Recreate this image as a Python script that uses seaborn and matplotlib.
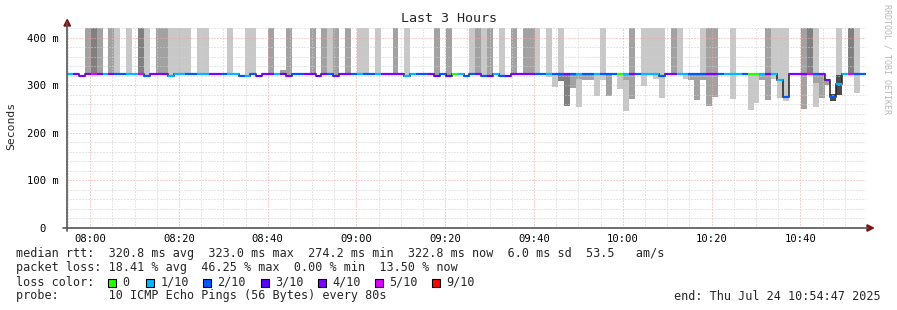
import numpy as np
import matplotlib
matplotlib.use("Agg")
import matplotlib.pyplot as plt
import seaborn as sns
from matplotlib.patches import Rectangle, Polygon
from matplotlib.lines import Line2D

# ---------------- data ----------------
title = "Last 3 Hours"
start_hms = (7, 54, 47)          # window start (end 10:54:47)
step_seconds = 80                # one measurement every 80 s
tick_labels = ["08:00", "08:20", "08:40", "09:00", "09:20", "09:40", "10:00", "10:20", "10:40"]
ytick_ms = [0, 100, 200, 300, 400]
ytick_labels = ["0  ", "100 m", "200 m", "300 m", "400 m"]

# loss level per step: 0=0, 1=1/10, 2=2/10, 3=3/10, 4=4/10, 5=5/10, 6=9/10
loss_lvl = [1, 4, 4, 4, 5, 4, 1, 4, 2, 2, 1, 1, 5, 2, 4,
            4, 4, 1, 1, 1, 2, 2, 1, 1, 4, 4, 2, 1, 1, 2,
            1, 2, 3, 4, 4, 1, 3, 4, 2, 2, 4, 4, 3, 4, 2,
            4, 4, 4, 2, 1, 2, 2, 1, 4, 4, 4, 4, 1, 1, 2,
            2, 4, 3, 2, 3, 0, 1, 2, 2, 4, 2, 3, 1, 2, 3,
            4, 4, 4, 4, 2, 2, 1, 2, 2, 4, 2, 1, 2, 2, 1,
            2, 2, 2, 0, 1, 4, 2, 1, 1, 1, 2, 4, 4, 1, 1,
            2, 2, 2, 4, 4, 2, 1, 1, 1, 2, 0, 0, 1, 4, 1,
            1, 2, 4, 4, 4, 5, 2, 4, 4, 2, 1, 1, 5, 2, 2]

median_ms = [322.8, 322.8, 319.6, 322.8, 322.8, 322.8, 322.8, 322.8, 322.8, 322.8, 322.8, 322.8, 322.8, 319.6, 322.8,
             322.8, 322.8, 319.6, 322.8, 322.8, 322.8, 322.8, 322.8, 322.8, 322.8, 322.8, 322.8, 322.8, 322.8, 319.6,
             319.6, 322.8, 319.6, 322.8, 322.8, 322.8, 322.8, 319.6, 322.8, 322.8, 322.8, 322.8, 319.6, 322.8, 322.8,
             319.6, 322.8, 322.8, 322.8, 322.8, 322.8, 322.8, 322.8, 322.8, 322.8, 322.8, 322.8, 319.6, 322.8, 322.8,
             322.8, 322.8, 319.6, 322.8, 319.6, 322.8, 322.8, 319.6, 322.8, 322.8, 319.6, 319.6, 322.8, 319.6, 319.6,
             322.8, 322.8, 322.8, 322.8, 322.8, 322.8, 322.8, 322.8, 322.8, 322.8, 322.8, 322.8, 322.8, 322.8, 322.8,
             322.8, 322.8, 322.8, 322.8, 322.8, 322.8, 322.8, 322.8, 322.8, 322.8, 319.6, 322.8, 322.8, 322.8, 322.8,
             322.8, 322.8, 322.8, 322.8, 322.8, 322.8, 322.8, 322.8, 322.8, 322.8, 322.8, 322.8, 322.8, 322.8, 322.8,
             311.0, 276.0, 322.8, 322.8, 322.8, 322.8, 322.8, 322.8, 311.0, 274.2, 302.0, 322.8, 322.8, 322.8, 322.8]

# smoke above the median, reaching off the chart (shade 1 light, 2 mid, 3 dark)
offscale_ms = 1000
up_step = [3, 4, 5, 7, 8, 10, 12, 13, 15, 16, 17, 18, 19, 20, 22, 23,
           27, 30, 31, 34, 37, 41, 43, 44, 45, 47, 49, 50, 52,
           55, 57, 62, 64, 68, 69, 70, 71, 73, 75, 77, 78, 79,
           81, 83, 90, 95, 97, 98, 99, 100, 102, 103, 107,
           108, 109, 112, 118, 119, 120, 121, 124, 125, 126, 132, 133]
up_shade = [2, 3, 2, 2, 1, 1, 3, 1, 2, 2, 1, 1, 1, 1, 1, 1,
            1, 1, 1, 2, 2, 2, 2, 1, 2, 2, 1, 1, 1,
            2, 1, 2, 2, 1, 2, 1, 2, 1, 2, 2, 2, 1,
            1, 1, 1, 2, 1, 1, 1, 1, 2, 1, 1,
            2, 2, 1, 2, 1, 1, 1, 2, 3, 1, 3, 1]

# smoke below the median: lowest ping of the band (drawn up to the median)
low_step = [81, 82, 83, 84, 85, 86, 86, 87, 88, 89, 90, 91, 93, 94, 94, 95, 97, 99, 100,
            104, 105, 106, 107, 108, 109, 112, 115, 116, 117, 118, 119, 120, 121, 124, 126, 126, 127, 128, 133]
low_ms = [317, 297, 308, 257, 293, 255, 312, 311, 311, 278, 310, 278, 291, 246, 310, 271, 299, 312, 273,
          312, 311, 269, 310, 256, 275, 271, 248, 263, 310, 268, 313, 273, 266, 249, 255, 305, 274, 301, 284]
low_shade = [1, 1, 3, 3, 2, 1, 2, 2, 2, 1, 1, 2, 1, 1, 2, 2, 1, 1, 1,
             1, 2, 2, 2, 2, 2, 1, 1, 1, 2, 2, 1, 1, 1, 2, 1, 2, 2, 2, 1]

# free-standing smoke bands
band_step = [36, 129, 130, 130]
band_lo = [322.8, 266, 322, 280]
band_hi = [331, 281, 1000, 322]
band_shade = [2, 4, 1, 4]

loss_names = ["0", "1/10", "2/10", "3/10", "4/10", "5/10", "9/10"]
loss_colors = ["#26ff00", "#00b8ff", "#0059ff", "#5e00ff", "#7e00ff", "#dd00ff", "#ff0000"]
shade_colors = {1: "#c8c8c8", 2: "#a2a2a2", 3: "#808080", 4: "#4c4c4c"}

stats_lines = [
    "median rtt:  320.8 ms avg  323.0 ms max  274.2 ms min  322.8 ms now  6.0 ms sd  53.5   am/s",
    "packet loss: 18.41 % avg  46.25 % max  0.00 % min  13.50 % now",
]
loss_title = "loss color:"
probe_line = "probe:       10 ICMP Echo Pings (56 Bytes) every 80s"
end_line = "end: Thu Jul 24 10:54:47 2025"
side_text = "RRDTOOL / TOBI OETIKER"
ylabel = "Seconds"

# ---------------- figure ----------------
sns.set_style("white")
plt.rcParams["font.family"] = ["DejaVu Sans Mono", "DejaVu Sans"]
W, H = 897, 310
fig = plt.figure(figsize=(W / 100, H / 100), dpi=100)
fig.patch.set_facecolor("white")

def fx(px):
    return px / W

def fy(py):
    return 1 - py / H

ax_l, ax_r, ax_t, ax_b = 67, 866, 28, 228
ax = fig.add_axes([fx(ax_l), fy(ax_b), (ax_r - ax_l) / W, (ax_b - ax_t) / H])
ax.set_facecolor("white")

t0 = start_hms[0] * 60 + start_hms[1] + start_hms[2] / 60.0
step_min = step_seconds / 60.0
n = len(median_ms)
edges = t0 + np.arange(n + 1) * step_min
med = np.array(median_ms)

# smoke above median
for k, s in zip(up_step, up_shade):
    ax.bar(edges[k], offscale_ms - med[k], bottom=med[k], width=step_min, align="edge",
           color=shade_colors[s], linewidth=0, antialiased=False, zorder=1)
# smoke below median (light first, darker on top)
order = sorted(range(len(low_step)), key=lambda i: low_shade[i])
for i in order:
    k = low_step[i]
    ax.bar(edges[k], med[k] - low_ms[i], bottom=low_ms[i], width=step_min, align="edge",
           color=shade_colors[low_shade[i]], linewidth=0, antialiased=False, zorder=1.2)
for k, lo, hi, s in zip(band_step, band_lo, band_hi, band_shade):
    ax.bar(edges[k], hi - lo, bottom=lo, width=step_min, align="edge",
           color=shade_colors[s], linewidth=0, antialiased=False, zorder=1.4)

# median line: dark step line + loss-coloured segments
ax.stairs(med, edges, baseline=None, color="#202020", linewidth=1.1, zorder=3)
ax.hlines(med, edges[:-1], edges[1:], colors=[loss_colors[l] for l in loss_lvl],
          linewidth=1.6, zorder=4)

# scales
x_end = t0 + 180
ax.set_xlim(t0, x_end)
ax.set_ylim(0, 420)
major_x = [480 + 20 * i for i in range(len(tick_labels))]
ax.set_xticks(major_x)
ax.set_xticklabels(tick_labels)
ax.set_xticks(np.arange(475, 655, 5), minor=True)
ax.set_yticks(ytick_ms)
ax.set_yticklabels(ytick_labels)
ax.set_yticks(np.arange(0, 421, 20), minor=True)
ax.tick_params(axis="both", which="both", length=0, labelsize=7.6, colors="black")
ax.tick_params(axis="x", pad=4.5)
ax.tick_params(axis="y", pad=6)

ax.set_axisbelow(False)
ax.grid(True, which="minor", color="#cfcfcf", linestyle=(0, (1, 2)), linewidth=0.72, zorder=2)
ax.grid(True, which="major", color="#f0a4a4", linestyle=(0, (1, 2)), linewidth=0.72, zorder=2.1)
for sp in ax.spines.values():
    sp.set_visible(False)

# axes lines and arrows
axis_col = "#555555"
arrow_col = "#7f1010"
fig.add_artist(Line2D([fx(ax_l), fx(ax_l)], [fy(ax_b + 3), fy(22)], color=axis_col, lw=1.2))
fig.add_artist(Line2D([fx(ax_l - 4), fx(868)], [fy(ax_b), fy(ax_b)], color=axis_col, lw=1.2))
fig.add_artist(Polygon([[fx(64), fy(26)], [fx(70.5), fy(26)], [fx(67.2), fy(19.5)]],
                       closed=True, color=arrow_col, transform=fig.transFigure))
fig.add_artist(Polygon([[fx(867), fy(224.8)], [fx(867), fy(231.2)], [fx(873.5), fy(228)]],
                       closed=True, color=arrow_col, transform=fig.transFigure))

# title / labels
fig.text(fx(448.5), fy(19), title, ha="center", va="center", fontsize=9.6)
fig.text(fx(11), fy(126), ylabel, ha="center", va="center", rotation=90, fontsize=8.2)
fig.text(fx(887), fy(59), side_text, ha="center", va="center", rotation=270,
         fontsize=6.0, color="#b8b8b8")

# bottom legend text
fs = 8.45
fig.text(fx(16), fy(254), stats_lines[0], ha="left", va="center", fontsize=fs)
fig.text(fx(16), fy(268), stats_lines[1], ha="left", va="center", fontsize=fs)
fig.text(fx(16), fy(282), loss_title, ha="left", va="center", fontsize=fs)
box_x = [108, 146, 203, 261, 318, 375, 432]
for bx, name, col in zip(box_x, loss_names, loss_colors):
    fig.add_artist(Rectangle((fx(bx), fy(286.5)), 8 / W, 8 / H, transform=fig.transFigure,
                             facecolor=col, edgecolor="black", linewidth=0.8))
    fig.text(fx(bx + 14.5), fy(282), name, ha="left", va="center", fontsize=fs)
fig.text(fx(16), fy(296), probe_line, ha="left", va="center", fontsize=fs)
fig.text(fx(881), fy(296), end_line, ha="right", va="center", fontsize=fs)

fig.savefig("out.png", dpi=100, facecolor="white")
